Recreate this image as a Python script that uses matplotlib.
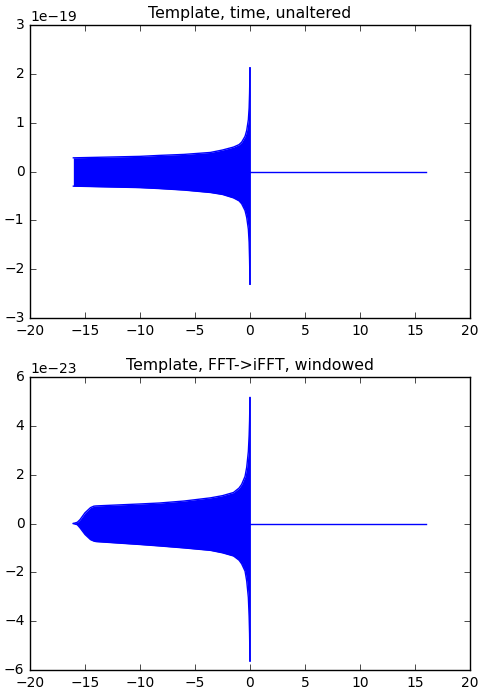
import numpy as np
import matplotlib
matplotlib.use("Agg")
import matplotlib.pyplot as plt

plt.style.use("classic")

# --- data (envelope of the dense chirp oscillation) ---
t_time = [-16.06, -14, -12, -10, -8.2, -6, -3.6, -2.5, -1.5, -1.0, -0.76, -0.45, -0.3, -0.15, -0.08, -0.04, -0.02, 0.0]
upper_time = [0.28, 0.29, 0.30, 0.31, 0.33, 0.35, 0.39, 0.44, 0.50, 0.55, 0.60, 0.72, 0.84, 1.06, 1.30, 1.6, 1.85, 2.12]
lower_time = [-0.30, -0.31, -0.32, -0.33, -0.35, -0.38, -0.43, -0.47, -0.54, -0.60, -0.66, -0.80, -0.94, -1.18, -1.45, -1.8, -2.05, -2.31]

t_win = [-16.06, -15.7, -15.45, -15.0, -14.5, -14.2, -14.0, -12, -10, -8.2, -6, -3.6, -2.5, -1.5, -1.0, -0.76, -0.45, -0.3, -0.15, -0.08, -0.04, -0.02, 0.0]
upper_win = [0.0, 0.05, 0.16, 0.44, 0.65, 0.71, 0.72, 0.76, 0.80, 0.84, 0.92, 1.05, 1.14, 1.27, 1.45, 1.60, 1.93, 2.3, 2.95, 3.6, 4.2, 4.7, 5.16]
lower_win = [0.0, -0.05, -0.18, -0.45, -0.66, -0.72, -0.74, -0.80, -0.86, -0.92, -1.0, -1.1, -1.2, -1.33, -1.5, -1.65, -1.95, -2.35, -3.03, -3.8, -4.5, -5.1, -5.62]

t_flat = [0.0, 16.0]
v_flat = [0.0, 0.0]

scale_time = 1e-19
scale_win = 1e-23

titles = ["Template, time, unaltered", "Template, FFT->iFFT, windowed"]
ylims = [(-3e-19, 3e-19), (-6e-23, 6e-23)]
xlim = (-20, 20)

fig = plt.figure(figsize=(4.79, 6.89), dpi=100, facecolor="white")
ax1 = fig.add_axes([30/479, 1-318/689, 440/479, 293/689])
ax2 = fig.add_axes([30/479, 1-670/689, 440/479, 293/689])

for ax, t, up, lo, sc, title, yl in [
    (ax1, t_time, upper_time, lower_time, scale_time, titles[0], ylims[0]),
    (ax2, t_win, upper_win, lower_win, scale_win, titles[1], ylims[1]),
]:
    t = np.array(t)
    up = np.array(up) * sc
    lo = np.array(lo) * sc
    ax.fill_between(t, lo, up, color="blue", lw=0)
    ax.plot(t, up, color="blue", lw=1)
    ax.plot(t, lo, color="blue", lw=1)
    ax.plot([t[-1], t[-1]], [lo[-1], up[-1]], color="blue", lw=1.2)
    ax.plot(t_flat, v_flat, color="blue", lw=1)
    ax.set_xlim(*xlim)
    ax.set_ylim(*yl)
    ax.set_title(title, fontsize=11.3)
    ax.tick_params(labelsize=10)
    ax.yaxis.get_offset_text().set_fontsize(10)

fig.savefig("out.png", dpi=100, facecolor="white")
